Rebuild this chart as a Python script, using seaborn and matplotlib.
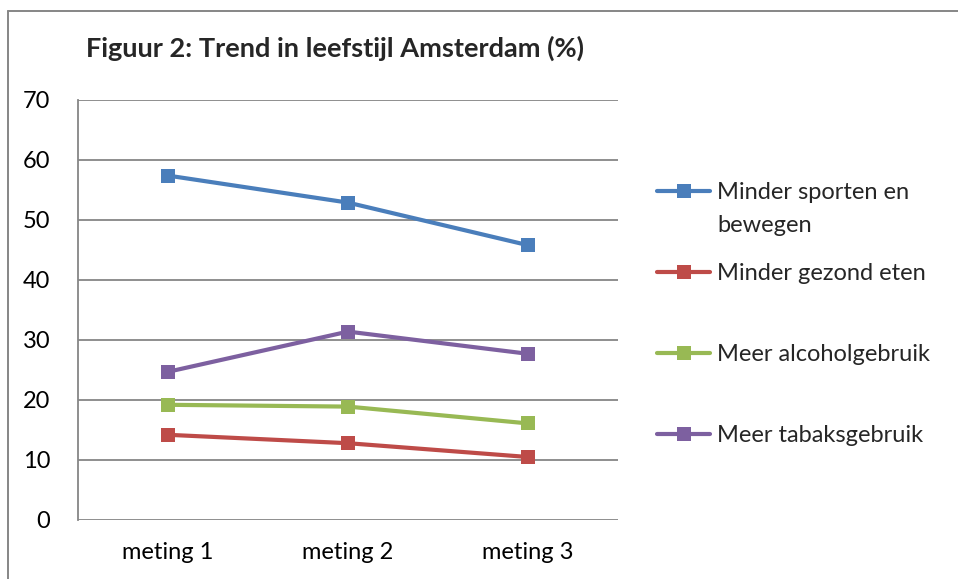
import matplotlib
matplotlib.use("Agg")
import matplotlib.pyplot as plt
import seaborn as sns
import pandas as pd
from matplotlib.lines import Line2D

# ---- data ----
categories = ["meting 1", "meting 2", "meting 3"]
series_names = ["Minder sporten en bewegen", "Minder gezond eten",
                "Meer alcoholgebruik", "Meer tabaksgebruik"]
sporten = [57.4, 52.9, 45.8]
gezond = [14.2, 12.8, 10.5]
alcohol = [19.2, 18.9, 16.1]
tabak = [24.7, 31.4, 27.7]
colors = ["#4A7EBB", "#BE4B48", "#98B954", "#7D60A0"]
title = "Figuur 2: Trend in leefstijl Amsterdam (%)"
yticks = [0, 10, 20, 30, 40, 50, 60, 70]

rows = []
for name, vals in zip(series_names, [sporten, gezond, alcohol, tabak]):
    for c, v in zip(categories, vals):
        rows.append({"meting": c, "serie": name, "waarde": v})
df = pd.DataFrame(rows)

sns.set_theme(style="white")
plt.rcParams["font.family"] = ["Lato", "DejaVu Sans"]

FS = 17
fig = plt.figure(figsize=(9.58, 5.79), dpi=100)
ax = fig.add_axes([78/958, 59/579, 540/958, 420/579])

sns.lineplot(data=df, x="meting", y="waarde", hue="serie", hue_order=series_names,
             palette=colors, marker="s", markersize=9.5, markeredgewidth=0,
             linewidth=3.0, sort=False, ax=ax, legend=False)

ax.set_xlim(-0.5, 2.5)
ax.set_ylim(0, 70)
ax.set_yticks(yticks)
ax.set_yticklabels([str(t) for t in yticks])
ax.set_xlabel("")
ax.set_ylabel("")
ax.grid(axis="y", color="#868686", linewidth=1.3)
ax.grid(axis="x", visible=False)
ax.set_axisbelow(True)
for s in ["top", "right", "bottom"]:
    ax.spines[s].set_visible(False)
ax.spines["left"].set_color("#868686")
ax.spines["left"].set_linewidth(1.3)
ax.tick_params(axis="y", length=0, pad=20, labelsize=FS, colors="black")
ax.tick_params(axis="x", length=0, pad=16, labelsize=FS, colors="black")

# legend
handles = [Line2D([], [], color=c, marker="s", markersize=9.5, markeredgewidth=0,
                  linewidth=3.0) for c in colors]
labels = ["Minder sporten en", "Minder gezond eten", "Meer alcoholgebruik",
          "Meer tabaksgebruik"]
leg = fig.legend(handles, labels, loc="upper left", bbox_to_anchor=(657/958, 1 - 182/579),
                 frameon=False, fontsize=FS, handlelength=2.25, handletextpad=0.3,
                 labelspacing=2.54, borderaxespad=0, borderpad=0)
fig.text(717/958, 1 - 225/579, "bewegen", fontsize=FS, va="center", ha="left")

fig.text(335/958, 1 - 48/579, title, fontsize=19.5, fontweight="bold",
         ha="center", va="center")

# outer chart frame (partially visible)
fig.add_artist(Line2D([8/958, 8/958], [0, 1 - 11/579], transform=fig.transFigure,
                      color="#868686", linewidth=1.4))
fig.add_artist(Line2D([8/958, 1], [1 - 11/579, 1 - 11/579], transform=fig.transFigure,
                      color="#868686", linewidth=1.4))

fig.savefig("out.png", dpi=100)
